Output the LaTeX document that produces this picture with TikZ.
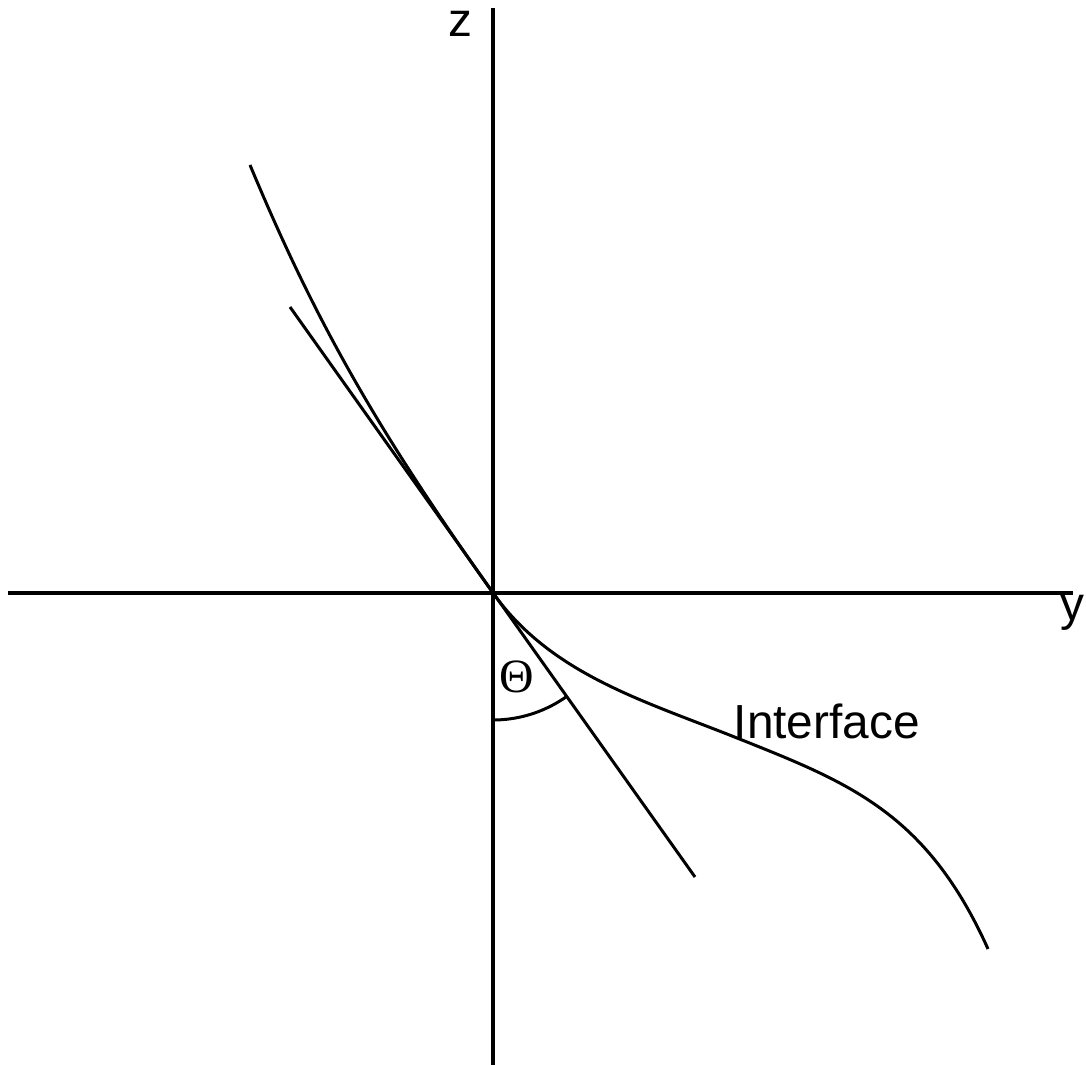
\documentclass[tikz,border=0pt]{standalone}
\usepackage{fontspec}
\setmainfont{Liberation Sans}
\newfontfamily\serifnum{Liberation Serif}
\begin{document}
\begin{tikzpicture}[x=0.01cm,y=-0.01cm,
  axis/.style={line width=1.05pt,line cap=butt},
  ln/.style={line width=0.85pt,line cap=butt},
  lbl/.style={inner sep=0pt,font=\fontsize{13.6pt}{16pt}\selectfont}]
\useasboundingbox (0,0) rectangle (1086,1065);
\coordinate (O) at (493,593);
\coordinate (ztop) at (493,8);
\coordinate (zbot) at (493,1065);
\coordinate (yleft) at (8,593);
\coordinate (yright) at (1073,593);
\coordinate (tA) at (290,307);
\coordinate (tB) at (695,877);
\coordinate (cS) at (250,165);
\coordinate (cM) at (737,738);
\coordinate (cE) at (988,949);
% axes
\draw[axis] (ztop) -- (zbot);
\draw[axis] (yleft) -- (yright);
% tangent
\draw[ln] (tA) -- (tB);
% interface curve
\draw[ln] (cS) .. controls (315.5,321.9) and (377.1,430) .. (O)
  .. controls (551,674.5) and (644.2,700.9) .. (cM)
  .. controls (848.4,782.5) and (926.5,812.2) .. (cE);
% angle arc
\draw[ln] plot[domain=0:35.4,samples=30,smooth] ({493+127*sin(\x)},{593+127*cos(\x)});
% labels
\node[lbl,anchor=base] (zl) at (460,37) {z};
\node[lbl,anchor=base] (yl) at (1072,621) {y};
\node[lbl,anchor=base west] (il) at (733,738) {Interface};
\node[lbl] (th) at (517,677) {\serifnum Θ};
\end{tikzpicture}
\end{document}
